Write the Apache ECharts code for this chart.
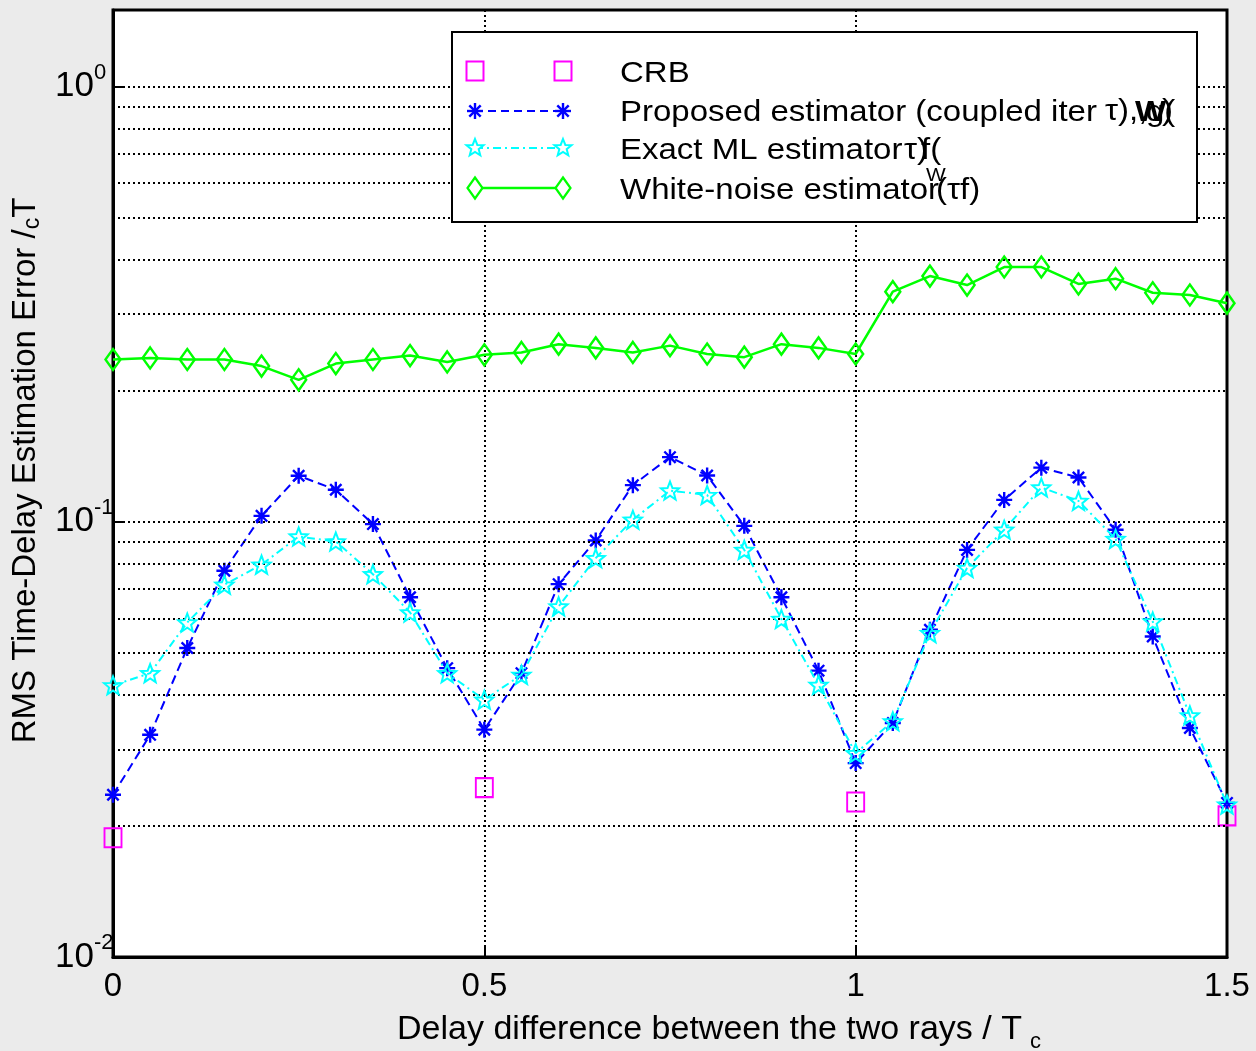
<!DOCTYPE html>
<html><head><meta charset="utf-8">
<script src="https://cdn.jsdelivr.net/npm/echarts@6/dist/echarts.min.js"></script>
<style>html,body{margin:0;padding:0;background:#ebebeb;} #chart{width:1256px;height:1051px;}</style>
</head><body><div id="chart"></div>
<script>
// ---- data ----
const delay = [0,0.05,0.1,0.15,0.2,0.25,0.3,0.35,0.4,0.45,0.5,0.55,0.6,0.65,0.7,0.75,0.8,0.85,0.9,0.95,1.0,1.05,1.1,1.15,1.2,1.25,1.3,1.35,1.4,1.45,1.5];
const proposed = [0.0236,0.0324,0.0513,0.0772,0.1032,0.1276,0.1185,0.0988,0.0671,0.0461,0.0333,0.0449,0.0719,0.0906,0.1214,0.1408,0.1278,0.0979,0.0671,0.0455,0.0279,0.0345,0.0565,0.0862,0.1123,0.1332,0.1264,0.0959,0.0545,0.0336,0.0226];
const exactML = [0.0421,0.0449,0.0587,0.0717,0.0797,0.0925,0.0901,0.0758,0.0619,0.0449,0.0390,0.0445,0.0639,0.0825,0.1011,0.1180,0.1152,0.0862,0.0598,0.0422,0.0294,0.0348,0.0555,0.0783,0.0959,0.1199,0.1117,0.0913,0.0590,0.0359,0.0224];
const whiteNoise = [0.236,0.238,0.236,0.236,0.228,0.212,0.231,0.236,0.241,0.233,0.242,0.245,0.256,0.251,0.245,0.254,0.243,0.239,0.256,0.251,0.243,0.338,0.367,0.350,0.385,0.385,0.352,0.362,0.336,0.332,0.318];
const crbDelay = [0,0.5,1,1.5];
const crb = [0.0188,0.0245,0.0227,0.0211];
const minorGridValues = [0.02,0.03,0.04,0.05,0.06,0.07,0.08,0.09,0.2,0.3,0.4,0.5,0.6,0.7,0.8,0.9];
const xTicks = [0,0.5,1,1.5];
const legendNames = ['CRB','Proposed estimator (coupled iter','Exact ML estimator','White-noise estimator'];

const FONT = '"Liberation Sans", Arial, Helvetica, sans-serif';
const pair = (xs, ys) => xs.map((x, i) => [x, ys[i]]);

const starPath = 'path://M0,-10L2.6,-3.4L9.51,-3.09L4.1,1.3L5.88,8.09L0,4.3L-5.88,8.09L-4.1,1.3L-9.51,-3.09L-2.6,-3.4Z';
const astPath = 'path://M0,-10L0,10M-10,0L10,0M-7.07,-7.07L7.07,7.07M-7.07,7.07L7.07,-7.07';

// ---- legend drawing helpers (decoration only) ----
function sq(cx, cy){ return {type:'rect', z:101, shape:{x:cx-8.5,y:cy-9.5,width:17,height:19}, style:{fill:'none',stroke:'#ff00ff',lineWidth:2}}; }
function ln(x1,y1,x2,y2,color,w,dash,z){ return {type:'line', z:z||102, shape:{x1,y1,x2,y2}, style:{stroke:color,lineWidth:w||2,lineDash:dash||null}}; }
function ast(cx, cy){ const r=8, d=5.7, c='#0000ff';
  return [ln(cx,cy-r,cx,cy+r,c,2.4), ln(cx-r,cy,cx+r,cy,c,2.4), ln(cx-d,cy-d,cx+d,cy+d,c,2.4), ln(cx-d,cy+d,cx+d,cy-d,c,2.4)]; }
function star(cx, cy){ const s=0.9; const pts=[[0,-10],[2.6,-3.4],[9.51,-3.09],[4.1,1.3],[5.88,8.09],[0,4.3],[-5.88,8.09],[-4.1,1.3],[-9.51,-3.09],[-2.6,-3.4]].map(p=>[cx+p[0]*s, cy+p[1]*s]);
  return {type:'polygon', z:102, shape:{points:pts}, style:{fill:'#fff',stroke:'#00ffff',lineWidth:2}}; }
function dia(cx, cy){ return {type:'polygon', z:102, shape:{points:[[cx,cy-10.5],[cx+7.5,cy],[cx,cy+10.5],[cx-7.5,cy]]}, style:{fill:'#fff',stroke:'#00ff00',lineWidth:2.2}}; }
function txt(t, x, y, size, bold){ return {type:'text', z:103, x:x, y:y, scaleX:1.1, style:{text:t, font:`${bold?'bold ':''}${size||30}px ${FONT}`, fill:'#000', verticalAlign:'middle', align:'left'}}; }

const legendGraphics = [
  {type:'rect', z:100, shape:{x:452,y:32,width:745,height:190}, style:{fill:'#fff',stroke:'#000',lineWidth:2}},
  sq(475,71), sq(563,71), txt(legendNames[0],620,74),
  ln(475,111,563,111,'#0000ff',2,[8,5],101), ...ast(475,111), ...ast(563,111), txt(legendNames[1],620,113),
  txt('τ),,',1105,112), txt('W',1135,113,30,true), txt('g(',1146,113), txt(')',1162,112),
  ln(475,148,563,148,'#00ffff',2,[8,4,2,4],101), star(475,148), star(563,148), txt(legendNames[2],620,151),
  txt('τ)',904,151), txt('f(',921,151),
  ln(475,188,563,188,'#00ff00',2.5,null,101), dia(475,188), dia(563,188), txt(legendNames[3],620,191),
  txt('W',926,176,19), txt('(τf)',936,191)
];

const chart = echarts.init(document.getElementById('chart'), null, {renderer:'canvas'});
chart.setOption({
  animation:false,
  backgroundColor:'#ebebeb',
  grid:{left:113, right:29, top:10, bottom:94, outerBoundsMode:'none', containLabel:false,
        show:true, backgroundColor:'#ffffff', borderColor:'#000', borderWidth:3},
  xAxis:{
    type:'value', min:0, max:1.5, interval:0.5,
    axisLine:{show:true, lineStyle:{color:'#000', width:3}},
    axisTick:{show:true, inside:true, length:12, lineStyle:{color:'#000', width:2}},
    axisLabel:{color:'#000', fontSize:33, fontFamily:FONT, margin:13,
      formatter: v => xTicks.includes(v) ? String(v) : ''},
    splitLine:{show:true, lineStyle:{color:'#000', width:2, type:[2,3]}},
    name:'{n|Delay difference between the two rays / T}{s|c}', nameLocation:'middle', nameGap:50,
    nameTextStyle:{color:'#000', fontFamily:FONT, fontSize:34, padding:[0,0,0,98],
      rich:{n:{fontSize:34, fontFamily:FONT, color:'#000'}, s:{fontSize:22, fontFamily:FONT, color:'#000', padding:[24,0,0,8]}}}
  },
  yAxis:{
    type:'log', logBase:10, min:0.01, max:1.5,
    axisLine:{show:true, lineStyle:{color:'#000', width:3}},
    axisTick:{show:true, inside:true, length:12, lineStyle:{color:'#000', width:2}},
    axisLabel:{align:'left', margin:58,
      formatter: v => { const e = Math.round(Math.log10(v)); if (Math.abs(v - Math.pow(10,e)) > 1e-9) return ''; return '{b|10}{s|' + e + '}'; },
      rich:{b:{fontSize:35, fontFamily:FONT, color:'#000'}, s:{fontSize:22, fontFamily:FONT, color:'#000', padding:[0,0,28,0]}}},
    splitLine:{show:true, lineStyle:{color:'#000', width:2, type:[2,3]}},
    name:'{n|RMS Time-Delay Estimation Error /}{s|c}{n|T}', nameLocation:'middle', nameGap:50,
    nameTextStyle:{color:'#000', fontFamily:FONT, fontSize:33, padding:[0,0,0,26],
      rich:{n:{fontSize:33, fontFamily:FONT, color:'#000'}, s:{fontSize:23, fontFamily:FONT, color:'#000', padding:[14,0,0,0]}}}
  },
  series:[
    {type:'line', name:'grid', data:[], z:1, silent:true,
     markLine:{silent:true, animation:false, symbol:['none','none'], label:{show:false},
       lineStyle:{color:'#000', width:2, type:[2,3]},
       data: minorGridValues.map(v => ({yAxis:v}))}},
    {type:'line', name:'CRB', data:pair(crbDelay, crb), symbol:'rect', symbolSize:[17,19],
     lineStyle:{width:0, opacity:0}, itemStyle:{color:'rgba(0,0,0,0)', borderColor:'#ff00ff', borderWidth:2}, z:3},
    {type:'line', name:'Proposed', data:pair(delay, proposed), symbol:astPath, symbolSize:16,
     lineStyle:{color:'#0000ff', width:2, type:[9,5]}, itemStyle:{color:'rgba(0,0,0,0)', borderColor:'#0000ff', borderWidth:2.4}, z:4},
    {type:'line', name:'Exact ML', data:pair(delay, exactML), symbol:starPath, symbolSize:18,
     lineStyle:{color:'#00ffff', width:2, type:[8,4,2,4]}, itemStyle:{color:'rgba(0,0,0,0)', borderColor:'#00ffff', borderWidth:2}, z:5},
    {type:'line', name:'White-noise', data:pair(delay, whiteNoise), symbol:'diamond', symbolSize:[15,21],
     lineStyle:{color:'#00ff00', width:2.5}, itemStyle:{color:'rgba(0,0,0,0)', borderColor:'#00ff00', borderWidth:2.5}, z:6}
  ],
  graphic: legendGraphics
});
</script></body></html>
